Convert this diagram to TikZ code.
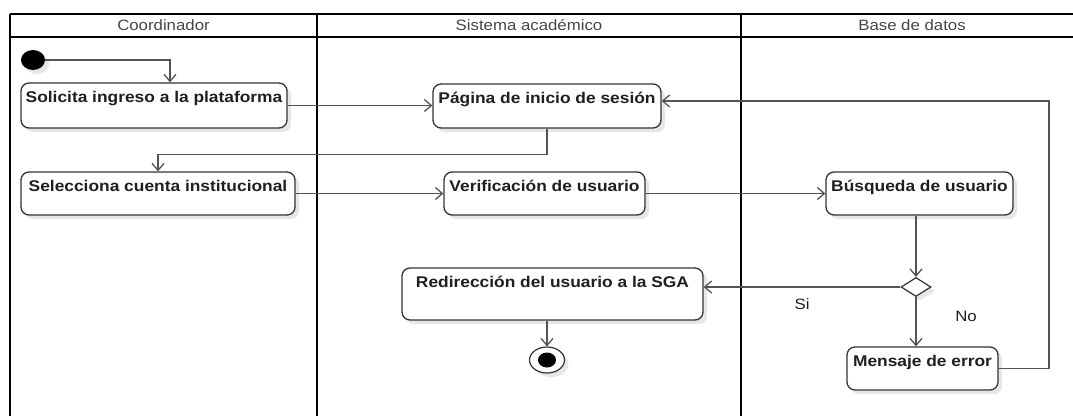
\documentclass[tikz,border=0pt]{standalone}
\usepackage{fontspec}
\setmainfont{Liberation Sans}[FakeStretch=1.12]
\usetikzlibrary{arrows.meta,shapes.geometric,shadows}

\newlength{\du}
\setlength{\du}{1pt}

\definecolor{lanecolor}{rgb}{0.000000, 0.000000, 0.000000}
\definecolor{boxcolor}{rgb}{0.200000, 0.200000, 0.200000}
\definecolor{flowcolor}{rgb}{0.330000, 0.330000, 0.330000}
\definecolor{textcolor}{rgb}{0.120000, 0.120000, 0.120000}
\definecolor{headcolor}{rgb}{0.270000, 0.270000, 0.270000}

\tikzset{
  lane/.style={draw=lanecolor, line width=1.6\du},
  lanehead/.style={text=headcolor, font=\fontsize{15}{17}\selectfont, inner sep=0pt},
  activity/.style={draw=boxcolor, line width=1.3\du, fill=white, rounded corners=8\du,
    text=textcolor, font=\fontsize{15.5}{17}\selectfont\bfseries, align=center,
    inner xsep=2\du, inner ysep=4\du, text height=15\du,
    drop shadow={shadow xshift=4\du, shadow yshift=-4\du, opacity=0.16, fill=black!60}},
  flow/.style={draw=flowcolor, line width=1.3\du, -{Straight Barb[length=7pt,width=12pt,line width=1.3pt]}},
  guard/.style={text=textcolor, font=\fontsize{15}{17}\selectfont, inner sep=0pt},
  decision/.style={diamond, draw=boxcolor, line width=1.2\du, fill=white, inner sep=0pt,
    minimum width=30\du, minimum height=19\du, aspect=1.6,
    drop shadow={shadow xshift=4\du, shadow yshift=-4\du, opacity=0.16, fill=black!60}}
}

\begin{document}
\begin{tikzpicture}[x=1\du, y=-1\du]
\useasboundingbox (0,0) rectangle (1073,415);

% swimlanes
\draw[lane] (10,14) -- (1090,14);
\draw[lane] (10,37) -- (1090,37);
\draw[lane] (10,14) -- (10,420);
\draw[lane] (317,14) -- (317,420);
\draw[lane] (741,14) -- (741,420);
\node[lanehead] (coord) at (163.5,25) {Coordinador};
\node[lanehead] (sistema) at (529,25) {Sistema académico};
\node[lanehead] (base) at (912,25) {Base de datos};

% start and end
\fill[black, drop shadow={shadow xshift=4\du, shadow yshift=-4\du, opacity=0.16, fill=black!60}]
  (33,60) ellipse (12 and 10);
\coordinate (init) at (45,60);
\node[draw=boxcolor, line width=1.2\du, fill=white, ellipse, inner sep=0pt,
  minimum width=35\du, minimum height=26\du,
  drop shadow={shadow xshift=4\du, shadow yshift=-4\du, opacity=0.16, fill=black!60}] (final) at (547,360) {};
\fill[black] (final.center) ellipse (9 and 7.5);

% activities
\node[activity, minimum width=266\du, text depth=22\du] (solicita) at (154,105.5) {Solicita ingreso a la plataforma};
\node[activity, minimum width=228\du, text depth=21\du] (pagina) at (547,106) {Página de inicio de sesión};
\node[activity, minimum width=274\du, text depth=20\du] (selecciona) at (158,193.5) {Selecciona cuenta institucional};
\node[activity, minimum width=201\du, text depth=20\du] (verif) at (544.5,193.5) {Verificación de usuario};
\node[activity, minimum width=187\du, text depth=20\du] (busqueda) at (919.5,193.5) {Búsqueda de usuario};
\node[activity, minimum width=301\du, text depth=29\du] (redir) at (552.5,294) {Redirección del usuario a la SGA};
\node[activity, minimum width=151\du, text depth=20\du] (mensaje) at (922.5,368.5) {Mensaje de error};
\node[decision] (dec) at (916,287) {};

% flows
\draw[flow] (init) -| ([xshift=16\du]solicita.north);
\draw[flow] (solicita.east) -- (solicita.east -| pagina.west);
\draw[flow] (pagina.south) -- ++(0,26) -| (selecciona.north);
\draw[flow] (selecciona.east) -- (verif.west);
\draw[flow] (verif.east) -- (busqueda.west);
\draw[flow] (busqueda.south -| dec.north) -- (dec.north);
\draw[flow] (dec.west) -- (dec.west -| redir.east) node[guard, pos=0.5, yshift=-17\du] (si) {Si};
\draw[flow] (dec.south) -- (dec.south |- mensaje.north) node[guard, pos=0.4, xshift=50\du] (no) {No};
\coordinate (back) at (1049,101);
\draw[flow] (mensaje.east) -| (back) -- (back -| pagina.east);
\draw[flow] (redir.south -| final.north) -- (final.north);
\end{tikzpicture}
\end{document}
